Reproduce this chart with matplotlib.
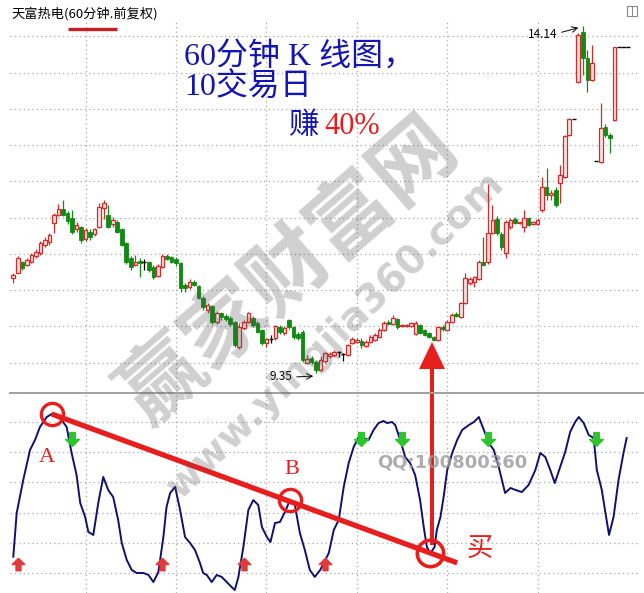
import numpy as np
import matplotlib
matplotlib.use('Agg')
import matplotlib.pyplot as plt
from matplotlib.patches import Rectangle, FancyArrow
from matplotlib.path import Path

plt.rcParams['font.family'] = ['Noto Sans CJK SC', 'DejaVu Sans']

stock_title = '天富热电(60分钟.前复权)'

# 60 minute candles
opens = [10.67, 10.74, 10.88, 10.84, 10.88, 10.97, 11.01, 11.12, 11.16, 11.43,
         11.53, 11.62, 11.56, 11.49, 11.34, 11.37, 11.20, 11.30, 11.27, 11.37,
         11.63, 11.53, 11.41, 11.44, 11.34, 11.15, 10.94, 10.84, 10.90, 10.88,
         10.88, 10.82, 10.69, 10.82, 10.97, 10.96, 10.93, 10.87, 10.57, 10.54,
         10.61, 10.56, 10.39, 10.22, 10.28, 10.06, 10.18, 10.14, 10.11, 10.06,
         9.71, 9.98, 10.06, 10.11, 10.04, 9.95, 9.77, 9.82, 9.84, 9.99,
         9.91, 10.09, 9.99, 9.89, 9.92, 9.49, 9.56, 9.51, 9.40, 9.52,
         9.59, 9.60, 9.64, 9.62, 9.60, 9.77, 9.78, 9.80, 9.73, 9.78,
         9.81, 9.85, 9.95, 10.06, 10.03, 10.10, 10.00, 10.00, 10.00, 9.89,
         10.02, 9.95, 9.91, 9.85, 9.81, 9.99, 9.95, 10.06, 10.17, 10.13,
         10.32, 10.60, 10.61, 10.65, 10.88, 10.88, 11.29, 11.48, 11.27, 11.01,
         11.37, 11.48, 11.42, 11.37, 11.49, 11.41, 11.41, 11.60, 11.92, 11.81,
         11.88, 11.98, 12.06, 12.64, 12.86, 13.37, 14.06, 13.70, 13.40, 12.28,
         12.27, 12.75, 12.64, 12.84, 13.85, 13.85, 13.85]
highs = [10.74, 10.97, 10.90, 10.94, 11.01, 11.07, 11.18, 11.23, 11.29, 11.56,
         11.68, 11.74, 11.59, 11.60, 11.44, 11.38, 11.36, 11.34, 11.36, 11.70,
         11.74, 11.67, 11.51, 11.47, 11.36, 11.16, 10.97, 10.98, 10.94, 10.93,
         10.90, 10.84, 10.86, 11.00, 11.00, 10.97, 10.96, 10.88, 10.60, 10.65,
         10.64, 10.57, 10.42, 10.32, 10.29, 10.21, 10.20, 10.17, 10.14, 10.07,
         10.05, 10.09, 10.20, 10.14, 10.07, 9.96, 9.84, 9.88, 10.02, 10.02,
         10.00, 10.10, 10.00, 9.92, 9.95, 9.60, 9.59, 9.53, 9.59, 9.64,
         9.64, 9.67, 9.66, 9.63, 9.75, 9.85, 9.84, 9.84, 9.81, 9.88,
         9.91, 9.98, 10.07, 10.09, 10.16, 10.11, 10.03, 10.03, 10.06, 10.07,
         10.03, 9.96, 9.92, 9.87, 10.00, 10.02, 10.09, 10.18, 10.20, 10.33,
         10.73, 10.68, 10.69, 10.91, 11.23, 11.96, 11.67, 11.52, 11.30, 11.47,
         11.49, 11.51, 11.44, 11.60, 11.51, 11.45, 11.49, 12.06, 12.18, 11.88,
         11.92, 12.22, 12.64, 12.87, 12.86, 14.04, 14.14, 13.81, 13.88, 12.28,
         13.08, 12.79, 12.67, 13.85, 13.85, 13.85, 13.85]
lows = [10.60, 10.73, 10.77, 10.83, 10.87, 10.94, 10.98, 11.09, 11.12, 11.29,
        11.52, 11.52, 11.41, 11.27, 11.30, 11.15, 11.18, 11.19, 11.25, 11.36,
        11.48, 11.36, 11.37, 11.29, 11.11, 10.86, 10.78, 10.83, 10.68, 10.78,
        10.75, 10.65, 10.68, 10.80, 10.91, 10.87, 10.83, 10.47, 10.47, 10.51,
        10.56, 10.38, 10.22, 10.18, 10.03, 10.03, 10.09, 10.07, 10.00, 9.71,
        9.69, 9.95, 10.04, 9.99, 9.91, 9.74, 9.71, 9.77, 9.81, 9.89,
        9.88, 9.96, 9.82, 9.81, 9.51, 9.48, 9.48, 9.35, 9.38, 9.49,
        9.56, 9.58, 9.58, 9.52, 9.59, 9.76, 9.77, 9.70, 9.71, 9.77,
        9.80, 9.84, 9.93, 10.02, 10.02, 9.96, 9.99, 9.99, 9.99, 9.88,
        9.89, 9.87, 9.84, 9.80, 9.80, 9.93, 9.93, 10.04, 10.13, 10.11,
        10.31, 10.57, 10.54, 10.64, 10.83, 10.86, 11.27, 11.26, 11.05, 10.94,
        11.34, 11.41, 11.41, 11.30, 11.38, 11.40, 11.40, 11.58, 11.74, 11.74,
        11.64, 11.70, 12.04, 12.62, 12.86, 13.36, 13.47, 13.23, 13.38, 12.28,
        12.25, 12.61, 12.39, 12.83, 13.85, 13.85, 13.85]
closes = [10.71, 10.94, 10.80, 10.91, 10.98, 11.02, 11.15, 11.19, 11.26, 11.53,
          11.62, 11.53, 11.45, 11.30, 11.40, 11.19, 11.33, 11.23, 11.34, 11.64,
          11.70, 11.37, 11.47, 11.30, 11.12, 10.88, 10.82, 10.88, 10.87, 10.88,
          10.78, 10.68, 10.83, 10.97, 10.93, 10.88, 10.87, 10.53, 10.53, 10.61,
          10.57, 10.39, 10.27, 10.29, 10.06, 10.18, 10.13, 10.10, 10.03, 9.74,
          9.99, 10.06, 10.18, 10.02, 9.92, 9.77, 9.82, 9.82, 10.00, 9.92,
          9.98, 9.99, 9.85, 9.84, 9.53, 9.55, 9.51, 9.40, 9.53, 9.63,
          9.62, 9.64, 9.64, 9.62, 9.74, 9.82, 9.81, 9.74, 9.78, 9.85,
          9.88, 9.95, 10.04, 10.03, 10.11, 9.99, 10.02, 10.02, 10.04, 10.04,
          9.91, 9.88, 9.85, 9.81, 9.99, 9.96, 10.06, 10.16, 10.14, 10.32,
          10.67, 10.65, 10.68, 10.88, 10.84, 11.29, 11.47, 11.29, 11.09, 11.44,
          11.47, 11.42, 11.44, 11.49, 11.40, 11.44, 11.47, 11.92, 11.81, 11.84,
          11.67, 12.09, 12.62, 12.86, 12.86, 14.02, 13.70, 13.40, 13.63, 12.28,
          12.73, 12.64, 12.60, 13.85, 13.85, 13.85, 13.85]

price_grid = [9.5, 10.0, 10.5, 11.0, 11.5, 12.0, 12.5, 13.0, 13.5, 14.0]
day_lines = [16, 36, 56, 76, 96, 116]

# indicator line (candle position, value)
osc_x = [0.0, 0.75, 2.2, 3.7, 4.8, 5.9, 7.4, 8.5, 9.6, 10.7,
         11.8, 12.9, 14.0, 14.8, 15.9, 16.6, 17.7, 18.8, 19.9, 21.0,
         22.1, 23.2, 24.0, 25.1, 26.2, 27.3, 28.8, 29.9, 31.0, 32.1,
         33.2, 33.9, 34.7, 35.8, 36.9, 38.0, 39.1, 40.2, 41.3, 42.0,
         42.8, 43.9, 45.0, 46.1, 47.2, 48.3, 49.0, 49.8, 50.9, 52.0,
         53.1, 54.2, 55.0, 56.1, 56.9, 57.9, 59.0, 60.1, 61.2, 62.3,
         63.4, 64.5, 65.6, 66.7, 67.9, 69.8, 70.9, 72.0, 73.1, 74.2,
         75.3, 76.4, 77.5, 78.6, 79.7, 80.8, 81.9, 82.7, 83.8, 84.5,
         85.6, 86.7, 87.8, 88.9, 90.0, 90.8, 91.5, 92.3, 93.2, 93.7,
         94.5, 95.2, 96.0, 97.1, 98.2, 99.3, 100.8, 101.9, 103.0, 104.1,
         105.2, 106.3, 107.4, 108.8, 110.0, 111.1, 112.5, 114.0, 115.5, 116.6,
         117.7, 118.8, 119.8, 121.0, 122.1, 123.2, 124.3, 125.1, 126.2, 127.3,
         128.4, 129.1, 130.2, 130.9, 131.8, 132.8, 133.9, 135.0, 135.7]
osc_v = [10.8, 39.7, 61.6, 81.5, 88.1, 96.7, 103.3, 105.3, 104.0, 101.3,
         96.7, 79.5, 64.9, 46.4, 37.1, 27.2, 25.2, 46.4, 63.6, 55.0,
         50.3, 35.1, 19.9, 8.6, 2.0, 0.0, 0.0, -1.3, -6.0, 0.7,
         23.8, 43.7, 53.0, 57.0, 41.7, 23.8, 19.9, 15.2, 6.6, 0.0,
         -1.3, -6.0, -1.3, -2.6, -6.0, -9.3, -11.3, -2.6, 17.2, 41.7,
         48.3, 45.0, 30.5, 23.8, 20.5, 33.1, 33.8, 40.4, 48.3, 45.0,
         26.5, 15.2, 2.0, -2.6, 2.0, 13.2, 28.5, 35.1, 57.0, 72.8,
         83.4, 90.1, 89.4, 88.1, 94.7, 99.3, 100.7, 99.3, 100.0, 98.0,
         88.1, 76.8, 72.8, 64.9, 48.3, 30.5, 17.2, 13.2, 17.2, 28.5,
         37.1, 50.3, 68.2, 79.5, 88.1, 94.7, 98.0, 100.0, 103.3, 94.7,
         86.1, 81.5, 70.2, 53.0, 56.3, 55.0, 53.6, 58.3, 68.2, 79.5,
         76.8, 68.2, 59.6, 70.2, 80.1, 93.4, 100.0, 103.3, 99.3, 91.4,
         89.4, 68.2, 55.0, 41.7, 25.2, 37.1, 61.6, 79.5, 89.4]
osc_grid = [0, 20, 40, 60, 80, 100]
buy_signals = [1, 33, 51, 69]
sell_signals = [13, 77, 86, 105, 129]
point_a, point_b, point_buy = 7, 58, 87   # positions in the osc arrays

RED = '#d42a2a'
PINK = '#fbe3e3'
GREEN = '#118a11'
BLUE = '#1414b0'
MARK = '#e61e1e'
GRID = '#a8a8a8'

W, H = 644, 593
fig = plt.figure(figsize=(W / 100, H / 100), dpi=100)


def box(l, t, r, b):
    return [l / W, 1 - b / H, (r - l) / W, (b - t) / H]


x0, step = 13.3, 4.52   # pixel of first candle, pixels per candle
xlim = ((10 - x0) / step, (640 - x0) / step)

ax1 = fig.add_axes(box(10, 20, 640, 391))
ax2 = fig.add_axes(box(10, 394, 640, 593))
for ax in (ax1, ax2):
    ax.set_xlim(*xlim)
    ax.axis('off')
ax1.set_ylim(14.5 - 391 / 72.5, 14.5 - 20 / 72.5)
ax2.set_ylim((573 - 593) / 1.51, (573 - 394) / 1.51)

dots = (0, (1, 2.5))
for p in price_grid:
    ax1.axhline(p, color=GRID, lw=0.9, ls=dots, zorder=0)
for v in osc_grid:
    ax2.axhline(v, color=GRID, lw=0.9, ls=dots, zorder=0)
for d in day_lines:
    ax1.axvline(d, color=GRID, lw=0.9, ls=dots, zorder=0)
    ax2.axvline(d, color=GRID, lw=0.9, ls=dots, zorder=0)

# candles
o, h, l, c = map(np.array, (opens, highs, lows, closes))
idx = np.arange(len(o))
up, dn, fl = c > o, c < o, c == o
ax1.vlines(idx[up], l[up], h[up], color=RED, lw=0.9, zorder=2)
ax1.bar(idx[up], c[up] - o[up], bottom=o[up], width=0.8,
        facecolor=PINK, edgecolor=RED, lw=0.9, zorder=3)
ax1.vlines(idx[dn], l[dn], h[dn], color=GREEN, lw=0.9, zorder=2)
ax1.bar(idx[dn], o[dn] - c[dn], bottom=c[dn], width=0.8,
        facecolor=GREEN, edgecolor=GREEN, lw=0.6, zorder=3)
ax1.vlines(idx[fl], l[fl], h[fl], color='black', lw=0.9, zorder=2)
ax1.hlines(c[fl], idx[fl] - 0.45, idx[fl] + 0.45, color='black', lw=1.0, zorder=3)

# indicator
ax2.plot(osc_x, osc_v, color='#10106e', lw=1.4, zorder=3)

arrow_up = Path([(0, 1), (1, 0), (0.4, 0), (0.4, -1), (-0.4, -1), (-0.4, 0), (-1, 0), (0, 1)])
arrow_dn = Path([(0, -1), (1, 0), (0.4, 0), (0.4, 1), (-0.4, 1), (-0.4, 0), (-1, 0), (0, -1)])
ax2.plot(buy_signals, [6] * len(buy_signals), ls='none', marker=arrow_up,
         ms=9, color='#e03a3a', zorder=4)
ax2.plot(sell_signals, [89] * len(sell_signals), ls='none', marker=arrow_dn,
         ms=10, color='#2ec42e', zorder=4)

# trend line A -> buy point and circles
xa, ya = osc_x[point_a], osc_v[point_a]
xb, yb = osc_x[point_b], osc_v[point_b]
xs, ys = osc_x[point_buy], osc_v[point_buy]
slope = (ys - ya) / (xs - xa)
x_end = xs + 5.9
ax2.plot([xa, x_end], [ya, ys + slope * (x_end - xs)], color=MARK, lw=3.8,
         solid_capstyle='butt', zorder=5, clip_on=False)
ax2.plot([xa, xb], [ya, yb], ls='none', marker='o', ms=16, mfc='none',
         mec=MARK, mew=2.4, zorder=6)
ax2.plot([xs], [ys], ls='none', marker='o', ms=19, mfc='none',
         mec=MARK, mew=2.6, zorder=6)

# overlay in pixel coordinates for the texts
ov = fig.add_axes([0, 0, 1, 1])
ov.set_xlim(0, W)
ov.set_ylim(H, 0)
ov.axis('off')
ov.patch.set_alpha(0)

ov.text(11, 14, stock_title, fontsize=9.5, va='center', ha='left', color='black')
ov.plot([68, 117], [29, 29], color='#c81e1e', lw=2.4, solid_capstyle='butt')
ov.add_patch(Rectangle((627, 6), 10, 10, fill=False, ec='#888888', lw=0.8))
ov.plot([632, 632], [6, 16], color='#888888', lw=0.8)
ov.plot([10, 644], [392.5, 392.5], color='#a0a0a0', lw=1.4)

serif = ['Liberation Serif', 'Noto Sans CJK SC']
ov.text(184, 57, '60分钟 K 线图，', fontsize=23, color=BLUE, family=serif,
        va='center', ha='left')
ov.text(184, 88, '10交易日', fontsize=23, color=BLUE, family=serif,
        va='center', ha='left')
ov.text(288, 127, '赚', fontsize=22, color=BLUE, family=serif, va='center', ha='left')
ov.text(324, 127, '40%', fontsize=22, color=MARK, family=serif, va='center', ha='left')

ov.text(557, 35, '14.14', fontsize=8.5, ha='right', va='center')
ov.annotate('', xy=(581, 27), xytext=(559, 33),
            arrowprops=dict(arrowstyle='->', lw=0.7, color='black'))
ov.text(292, 377, '9.35', fontsize=8.5, ha='right', va='center')
ov.annotate('', xy=(316, 376), xytext=(294, 377),
            arrowprops=dict(arrowstyle='->', lw=0.7, color='black'))

ov.text(47, 458, 'A', fontsize=16, color=MARK, family=serif, ha='center', va='center')
ov.text(292, 470, 'B', fontsize=16, color=MARK, family=serif, ha='center', va='center')
ov.text(480, 548, '买', fontsize=19, color=MARK, ha='center', va='center')
ov.add_patch(FancyArrow(432, 545, 0, -203, width=4, head_width=26, head_length=27,
                        length_includes_head=True, color=MARK, lw=0))

# watermark
ov.text(290, 272, '赢家财富网', fontsize=60, fontweight='bold', color='#555555',
        alpha=0.28, rotation=41, ha='center', va='center', rotation_mode='anchor')
ov.text(335, 335, 'www.yingjia360.com', fontsize=28, fontweight='bold',
        color='#555555', alpha=0.28, rotation=44, ha='center', va='center',
        rotation_mode='anchor', family='DejaVu Sans')
ov.text(452, 462, 'QQ:100800360', fontsize=13, fontweight='bold', color='#999999',
        alpha=0.8, ha='center', va='center', family='DejaVu Sans')

fig.savefig('out.png', dpi=100)
